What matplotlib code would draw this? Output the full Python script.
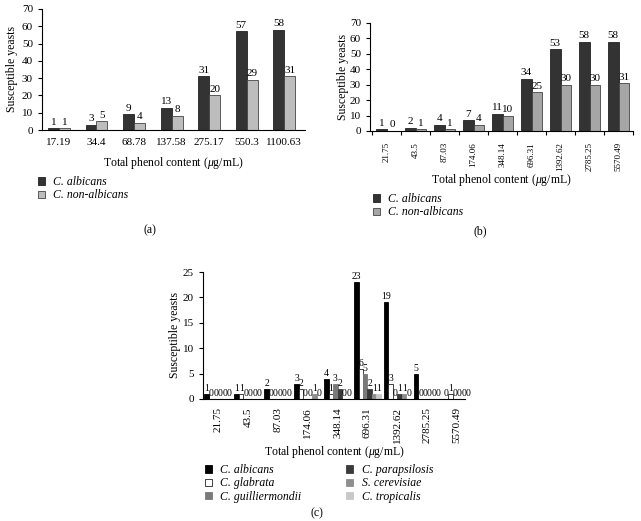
import numpy as np
import matplotlib
matplotlib.use("Agg")
import matplotlib.pyplot as plt

plt.rcParams["font.family"] = ["Liberation Serif", "DejaVu Serif"]
plt.rcParams["mathtext.fontset"] = "custom"
plt.rcParams["mathtext.it"] = "Liberation Serif:italic"
plt.rcParams["mathtext.rm"] = "Liberation Serif"

# --- data ---
conc_a = ["17.19", "34.4", "68.78", "137.58", "275.17", "550.3", "1100.63"]
albicans_a = [1, 3, 9, 13, 31, 57, 58]
nonalb_a = [1, 5, 4, 8, 20, 29, 31]

conc_b = ["21.75", "43.5", "87.03", "174.06", "348.14", "696.31", "1392.62", "2785.25", "5570.49"]
albicans_b = [1, 2, 4, 7, 11, 34, 53, 58, 58]
nonalb_b = [0, 1, 1, 4, 10, 25, 30, 30, 31]

conc_c = conc_b
species_c = ["C. albicans", "C. glabrata", "C. guilliermondii",
             "C. parapsilosis", "S. cerevisiae", "C. tropicalis"]
albicans_c = [1, 1, 2, 3, 4, 23, 19, 5, 0]
glabrata_c = [0, 1, 0, 2, 1, 6, 3, 0, 1]
guillier_c = [0, 0, 0, 0, 3, 5, 0, 0, 0]
parapsil_c = [0, 0, 0, 0, 2, 2, 1, 0, 0]
cerevis_c = [0, 0, 0, 1, 0, 1, 1, 0, 0]
tropical_c = [0, 0, 0, 0, 0, 1, 0, 0, 0]
series_c = [albicans_c, glabrata_c, guillier_c, parapsil_c, cerevis_c, tropical_c]
colors_c = ["#000000", "#ffffff", "#7a7a7a", "#3a3a3a", "#8e8e8e", "#c8c8c8"]

W, H = 641, 521
fig = plt.figure(figsize=(W / 100, H / 100), dpi=100)

def px_axes(l, t, r, b):
    return fig.add_axes([l / W, 1 - b / H, (r - l) / W, (b - t) / H])

def style(ax, ylx, xly):
    for s in ["top", "right"]:
        ax.spines[s].set_visible(False)
    ax.spines["left"].set_linewidth(0.8)
    ax.spines["bottom"].set_linewidth(0.8)
    ax.tick_params(axis="y", labelsize=8, length=3, width=0.8)
    ax.set_ylabel("Susceptible yeasts", fontsize=8.5, va="center")
    ax.yaxis.set_label_coords(ylx, 0.5)
    ax.set_xlabel(XLAB, fontsize=8.5, va="center")
    ax.xaxis.set_label_coords(0.5, xly)

XLAB = "Total phenol content ($\\mu$g/mL)"
LEGP = {"style": "italic", "size": 8.5}
LEGKW = dict(frameon=False, prop=LEGP, handlelength=0.6, handleheight=0.6,
             handletextpad=0.7, labelspacing=0.12, borderpad=0, borderaxespad=0)

# ---------- (a) ----------
ax = px_axes(42, 9, 305, 130)
x = np.arange(len(conc_a))
w = 0.29
b1 = ax.bar(x - w / 2, albicans_a, w, color="#333333", edgecolor="#222222", lw=0.6, label="C. albicans")
b2 = ax.bar(x + w / 2, nonalb_a, w, color="#bdbdbd", edgecolor="#444444", lw=0.6, label="C. non-albicans")
for bars in (b1, b2):
    for b in bars:
        ax.text(b.get_x() + b.get_width() / 2, b.get_height() + 1, f"{int(b.get_height())}",
                ha="center", va="bottom", fontsize=8)
ax.set_xlim(-0.45, 6.55)
ax.set_ylim(0, 70)
ax.set_yticks(range(0, 71, 10))
ax.set_xticks(x)
ax.set_xticklabels(conc_a, fontsize=8)
ax.tick_params(axis="x", length=0, pad=6)
style(ax, -0.114, -0.273)
fig.legend(handles=[b1, b2], loc="upper left", bbox_to_anchor=(38 / W, 1 - 176 / H), **LEGKW)
fig.text(150 / W, 1 - 230 / H, "(a)", ha="center", va="center", fontsize=8.5)

# ---------- (b) ----------
ax = px_axes(370, 23, 633, 131)
x = np.arange(len(conc_b))
w = 0.37
b1 = ax.bar(x - w / 2, albicans_b, w, color="#333333", edgecolor="#222222", lw=0.6, label="C. albicans")
b2 = ax.bar(x + w / 2, nonalb_b, w, color="#a6a6a6", edgecolor="#444444", lw=0.6, label="C. non-albicans")
for bars in (b1, b2):
    for b in bars:
        ax.text(b.get_x() + b.get_width() / 2, b.get_height() + 1, f"{int(b.get_height())}",
                ha="center", va="bottom", fontsize=8)
ax.set_xlim(-0.58, 8.34)
ax.set_ylim(0, 70)
ax.set_yticks(range(0, 71, 10))
ax.set_xticks(x)
ax.set_xticklabels(conc_b, fontsize=6.5, rotation=90)
ax.set_xticks(np.arange(-0.5, 8.6, 1), minor=True)
ax.tick_params(axis="x", which="major", length=0, pad=8)
ax.tick_params(axis="x", which="minor", length=3, width=0.8)
style(ax, -0.103, -0.454)
fig.legend(handles=[b1, b2], loc="upper left", bbox_to_anchor=(373 / W, 1 - 193 / H), **LEGKW)
fig.text(480 / W, 1 - 231 / H, "(b)", ha="center", va="center", fontsize=8.5)

# ---------- (c) ----------
ax = px_axes(203, 272, 465, 399)
x = np.arange(len(conc_c))
w = 0.15
handles = []
for i, (vals, col, name) in enumerate(zip(series_c, colors_c, species_c)):
    bars = ax.bar(x + (i - 2.5) * w, vals, w, color=col, edgecolor="#222222" if col == "#ffffff" else col,
                  lw=0.6, label=name)
    handles.append(bars)
    for b in bars:
        ax.text(b.get_x() + b.get_width() / 2, b.get_height() + 0.2, f"{int(b.get_height())}",
                ha="center", va="bottom", fontsize=7)
ax.set_xlim(-0.5, 8.26)
ax.set_ylim(0, 25)
ax.set_yticks(range(0, 26, 5))
ax.set_xticks(x)
ax.set_xticklabels(conc_c, fontsize=8, rotation=90)
ax.tick_params(axis="x", length=0, pad=6)
style(ax, -0.107, -0.417)
fig.legend(handles=handles, ncol=2, loc="upper left", bbox_to_anchor=(205 / W, 1 - 464 / H),
           columnspacing=3.8, **LEGKW)
fig.text(317 / W, 1 - 513 / H, "(c)", ha="center", va="center", fontsize=8.5)

fig.savefig("out.png", dpi=100)
